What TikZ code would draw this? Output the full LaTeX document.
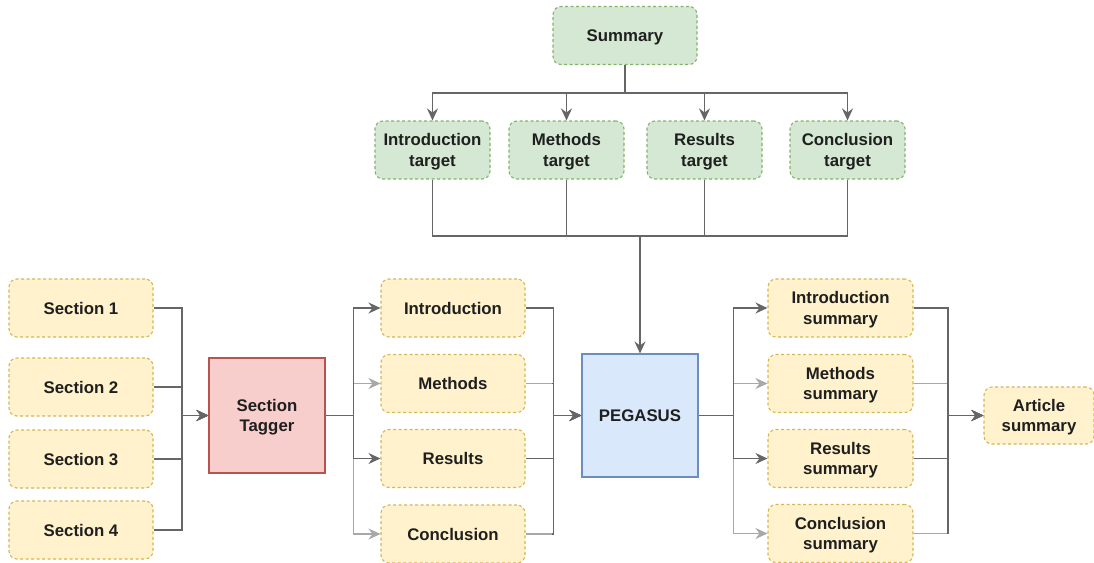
\documentclass[tikz,border=0pt]{standalone}
\usepackage{fontspec}
\setmainfont{Liberation Sans}
\usetikzlibrary{arrows.meta,calc}
\definecolor{yfill}{HTML}{FFF2CC}\definecolor{ydraw}{HTML}{D6B656}
\definecolor{gfill}{HTML}{D5E8D4}\definecolor{gdraw}{HTML}{82B366}
\definecolor{rfill}{HTML}{F8CECC}\definecolor{rdraw}{HTML}{B85450}
\definecolor{bfill}{HTML}{DAE8FC}\definecolor{bdraw}{HTML}{6C8EBF}
\definecolor{dline}{HTML}{666666}\definecolor{lline}{HTML}{A8A8A8}
\tikzset{
  base/.style={align=center,font=\fontsize{16.8}{20.5}\selectfont\bfseries,text=black!88,inner sep=0pt,line width=1.1pt,text depth=-3.5pt},
  ybox/.style={base,draw=ydraw,fill=yfill,dash pattern=on 3pt off 2.5pt,rounded corners=8pt,minimum width=#1,minimum height=58pt},
  gbox/.style={base,draw=gdraw,fill=gfill,dash pattern=on 3pt off 2.5pt,rounded corners=8pt,minimum width=#1,minimum height=58pt},
  line/.style={draw=dline,line width=1.8pt},
  lline/.style={draw=lline,line width=1.8pt},
  arr/.style={line,-{Stealth[length=12pt,width=11pt,inset=4pt]}},
  larr/.style={lline,-{Stealth[length=12pt,width=11pt,inset=4pt]}},
}
\begin{document}
\begin{tikzpicture}[x=1pt,y=-1pt]
\useasboundingbox (0,0) rectangle (1094,562);
% top
\node[gbox=144pt] (sum) at (625,35.5) {Summary};
\node[gbox=115pt] (t1) at (432.5,150) {Introduction\\target};
\node[gbox=115pt] (t2) at (566.5,150) {Methods\\target};
\node[gbox=115pt] (t3) at (704.5,150) {Results\\target};
\node[gbox=115pt] (t4) at (847.5,150) {Conclusion\\target};
% left
\node[ybox=144pt] (s1) at (81,308) {Section 1};
\node[ybox=144pt] (s2) at (81,387) {Section 2};
\node[ybox=144pt] (s3) at (81,459) {Section 3};
\node[ybox=144pt] (s4) at (81,530) {Section 4};
\node[base,draw=rdraw,fill=rfill,minimum width=116pt,minimum height=115pt] (tag) at (267,415.5) {Section\\Tagger};
% middle
\node[ybox=144pt] (m1) at (453,308) {Introduction};
\node[ybox=144pt] (m2) at (453,383.5) {Methods};
\node[ybox=144pt] (m3) at (453,458.5) {Results};
\node[ybox=144pt] (m4) at (453,534) {Conclusion};
\node[base,draw=bdraw,fill=bfill,minimum width=116pt,minimum height=123pt] (peg) at (640,415.5) {PEGASUS};
% right
\node[ybox=145pt] (r1) at (840.5,308) {Introduction\\summary};
\node[ybox=145pt] (r2) at (840.5,383.5) {Methods\\summary};
\node[ybox=145pt] (r3) at (840.5,458.5) {Results\\summary};
\node[ybox=145pt] (r4) at (840.5,533.5) {Conclusion\\summary};
\node[ybox=110pt,minimum height=57pt] (art) at (1039,415.5) {Article\\summary};
\coordinate (bus) at (640,236);
% summary -> targets
\foreach \t in {t1,t2,t3,t4}{\draw[arr] (sum.south) -- ++(0,28) -| (\t.north);}
% targets -> pegasus
\foreach \t in {t1,t2,t3,t4}{\draw[line] (\t.south) |- (bus);}
\draw[arr] (bus) -- (peg.north);
% sections -> tagger
\foreach \s in {s1,s2,s3,s4}{\draw[arr] (\s.east) -- ++(28.5,0) |- (tag.west);}
% tagger -> middle
\draw[larr] (tag.east) -- ++(28,0) |- (m2.west);
\draw[larr] (tag.east) -- ++(28,0) |- (m4.west);
\draw[arr] (tag.east) -- ++(28,0) |- (m1.west);
\draw[arr] (tag.east) -- ++(28,0) |- (m3.west);
% middle -> pegasus
\foreach \m in {m1,m2,m3,m4}{\draw[arr] (\m.east) -- ++(28,0) |- (peg.west);}
\draw[lline] (m2.east) -- ++(26,0);
\draw[lline] (m4.east) -- ++(26,0);
% pegasus -> right
\draw[larr] (peg.east) -- ++(35,0) |- (r2.west);
\draw[larr] (peg.east) -- ++(35,0) |- (r4.west);
\draw[arr] (peg.east) -- ++(35,0) |- (r1.west);
\draw[arr] (peg.east) -- ++(35,0) |- (r3.west);
% right -> article
\foreach \r in {r1,r2,r3,r4}{\draw[arr] (\r.east) -- ++(34.5,0) |- (art.west);}
\draw[lline] (r2.east) -- ++(33,0);
\draw[lline] (r4.east) -- ++(33,0);
\end{tikzpicture}
\end{document}
